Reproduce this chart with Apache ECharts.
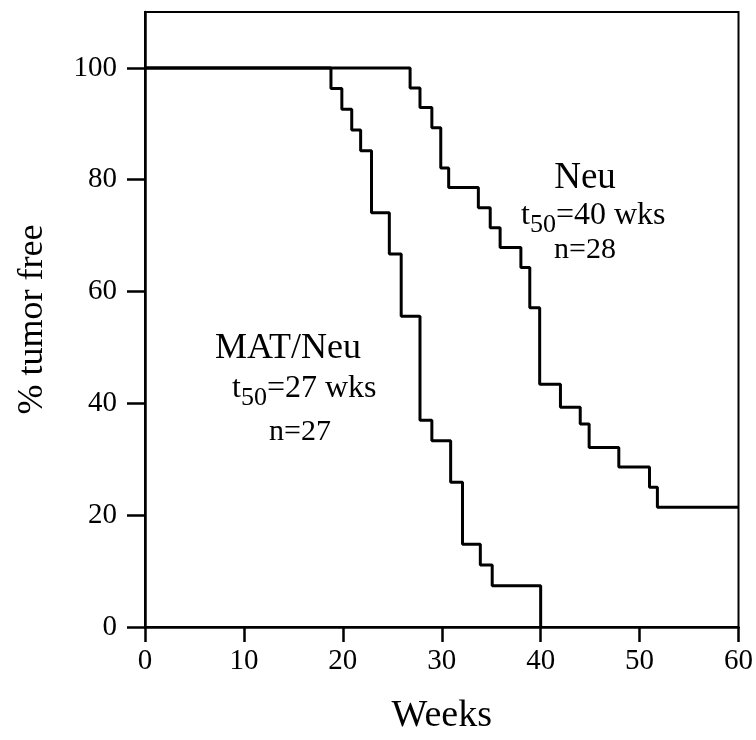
<!DOCTYPE html>
<html>
<head>
<meta charset="utf-8">
<script src="https://cdn.jsdelivr.net/npm/echarts@6/dist/echarts.min.js"></script>
<style>
  html, body { margin: 0; padding: 0; background: #fff; }
  #chart { width: 756px; height: 740px; }
</style>
</head>
<body>
<div id="chart"></div>
<script>
  // Kaplan-Meier style steps: [week, % tumor free after the drop]
  var matNeuWeeks = [0, 18.8, 19.9, 20.9, 21.8, 22.9, 24.7, 25.9, 27.8, 29.0, 30.9, 32.1, 33.9, 35.1, 40.0]
  var matNeuFree  = [100, 96.3, 92.6, 88.9, 85.2, 74.1, 66.7, 55.6, 37.0, 33.3, 25.9, 14.8, 11.1, 7.4, 0]

  var neuWeeks = [0, 26.8, 27.8, 29.0, 29.9, 30.7, 33.7, 34.9, 35.9, 38.0, 38.9, 39.9, 42.0, 44.0, 44.9, 47.9, 51.0, 51.8, 60]
  var neuFree  = [100, 96.4, 92.9, 89.3, 82.1, 78.6, 75.0, 71.4, 67.9, 64.3, 57.1, 43.4, 39.3, 36.3, 32.1, 28.6, 25.0, 21.4, 21.4]

  var yTicks = [0, 20, 40, 60, 80, 100]

  function pairs(xs, ys) {
    return xs.map(function (x, i) { return [x, ys[i]] })
  }

  var serif = 'Liberation Serif'
  var chart = echarts.init(document.getElementById('chart'))

  // t50 with lowered subscript (taller line box for "50" pushes it down a bit)
  var subRich = {
    a: { fontFamily: serif, fontSize: 32, lineHeight: 32, verticalAlign: 'top', fill: '#000' },
    b: { fontFamily: serif, fontSize: 26, lineHeight: 38, verticalAlign: 'bottom', fill: '#000' },
    c: { fontFamily: serif, fontSize: 32, lineHeight: 32, verticalAlign: 'top', fill: '#000' }
  }

  chart.setOption({
    animation: false,
    grid: {
      left: 145, right: 16, top: 12, bottom: 113,
      show: true, borderColor: '#000', borderWidth: 2
    },
    xAxis: {
      type: 'value', min: 0, max: 60, interval: 10,
      splitLine: { show: false },
      axisLine: { lineStyle: { color: '#000', width: 2.5 } },
      axisTick: { length: 15, lineStyle: { color: '#000', width: 2.5 } },
      axisLabel: { color: '#000', fontFamily: serif, fontSize: 29, margin: 20 },
      name: 'Weeks', nameLocation: 'middle', nameGap: 70,
      nameTextStyle: { color: '#000', fontFamily: serif, fontSize: 38 }
    },
    yAxis: {
      type: 'value', min: 0, max: 110, interval: 10,
      splitLine: { show: false },
      axisLine: { lineStyle: { color: '#000', width: 2.5 } },
      axisTick: { customValues: yTicks, length: 18, lineStyle: { color: '#000', width: 2.5 } },
      axisLabel: { customValues: yTicks, color: '#000', fontFamily: serif, fontSize: 29, margin: 28 },
      name: '% tumor free', nameLocation: 'middle', nameGap: 94,
      nameTextStyle: { color: '#000', fontFamily: serif, fontSize: 36 }
    },
    series: [
      {
        name: 'MAT/Neu', type: 'line', step: 'end', symbol: 'none',
        lineStyle: { color: '#000', width: 3 },
        data: pairs(matNeuWeeks, matNeuFree)
      },
      {
        name: 'Neu', type: 'line', step: 'end', symbol: 'none',
        lineStyle: { color: '#000', width: 3 },
        data: pairs(neuWeeks, neuFree)
      }
    ],
    graphic: [
      { type: 'text', x: 585, y: 178, style: { text: 'Neu', fontFamily: serif, fontSize: 37, fill: '#000', align: 'center', verticalAlign: 'middle' } },
      { type: 'text', x: 521, y: 200, style: { text: '{a|t}{b|50}{c|=40 wks}', rich: subRich } },
      { type: 'text', x: 585, y: 250, style: { text: 'n=28', fontFamily: serif, fontSize: 30, fill: '#000', align: 'center', verticalAlign: 'middle' } },
      { type: 'text', x: 288, y: 349, style: { text: 'MAT/Neu', fontFamily: serif, fontSize: 36, fill: '#000', align: 'center', verticalAlign: 'middle' } },
      { type: 'text', x: 232, y: 373, style: { text: '{a|t}{b|50}{c|=27 wks}', rich: subRich } },
      { type: 'text', x: 300, y: 432, style: { text: 'n=27', fontFamily: serif, fontSize: 30, fill: '#000', align: 'center', verticalAlign: 'middle' } }
    ]
  })
</script>
</body>
</html>
